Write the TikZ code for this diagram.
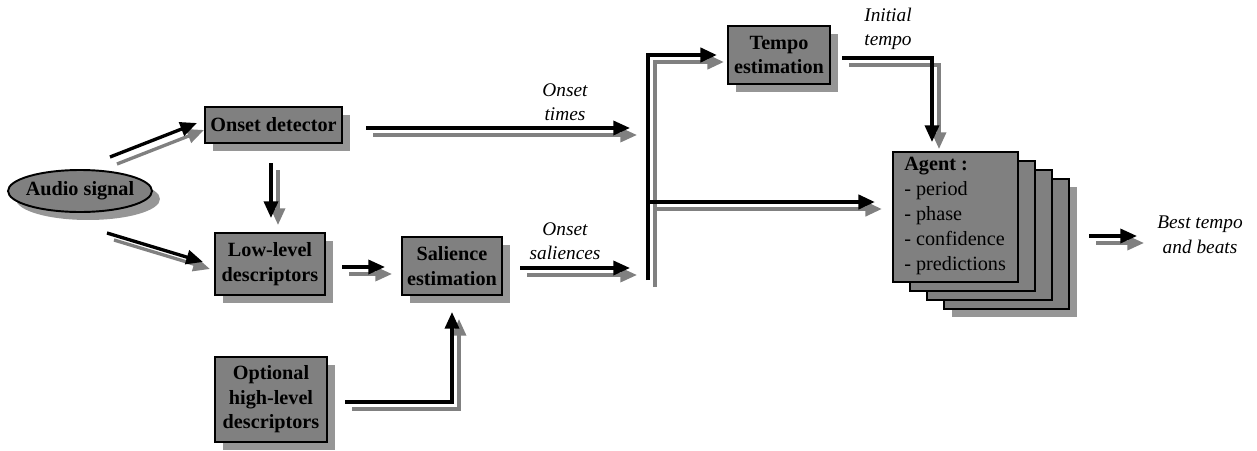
\documentclass[tikz,border=0pt]{standalone}
\usepackage{fontspec}
\setmainfont{Liberation Serif}
\usetikzlibrary{arrows.meta,shapes.geometric,shadows}
\definecolor{boxgray}{RGB}{128,128,128}
\definecolor{shgray}{RGB}{150,150,150}
\definecolor{argray}{RGB}{128,128,128}
\begin{document}
\begin{tikzpicture}[x=0.02cm,y=-0.02cm,
  boxfont/.style={font=\fontsize{11.5}{14}\selectfont\bfseries},
  sh/.style={general shadow={fill=shgray,shadow xshift=0.16cm,shadow yshift=-0.16cm}},
  box/.style={draw=black,line width=1.1pt,fill=boxgray,boxfont,align=center,inner sep=0pt},
  plainbox/.style={draw=black,line width=1.1pt,fill=boxgray,inner sep=0pt,minimum width=2.5cm,minimum height=2.6cm},
  lbl/.style={font=\fontsize{11}{14}\selectfont\itshape,align=center,inner sep=0pt},
  tip/.style={-{Triangle[length=9.5pt,width=8pt]}},
  barrow/.style={draw=black,line width=1.9pt,tip},
  garrow/.style={draw=argray,line width=1.9pt,tip,transform canvas={shift={(0.14cm,-0.14cm)}}},
  bbar/.style={draw=black,line width=2.3pt,tip},
  gbar/.style={draw=argray,line width=2.3pt,tip,transform canvas={shift={(0.14cm,-0.14cm)}}}
]
\useasboundingbox (0,0) rectangle (1257,450);

% nodes
\node[box,sh,ellipse,minimum width=2.88cm,minimum height=0.84cm] (audio) at (80,191) {\makebox[0pt]{Audio signal}};
\node[box,sh,minimum width=2.74cm,minimum height=0.72cm] (onset) at (273.5,125) {Onset detector};
\node[box,sh,minimum width=2.2cm,minimum height=1.24cm] (low) at (270,264) {Low-level\\descriptors};
\node[box,sh,minimum width=2.0cm,minimum height=1.16cm] (sal) at (452,266) {Salience\\estimation};
\node[box,sh,minimum width=2.24cm,minimum height=1.7cm] (opt) at (271,399.5) {Optional\\high-level\\descriptors};
\node[box,sh,minimum width=2.04cm,minimum height=1.16cm] (tempo) at (779,55) {Tempo\\estimation};

\node[plainbox,sh] (ag4) at (1006.5,244) {};
\node[plainbox] (ag3) at (989.5,235) {};
\node[plainbox] (ag2) at (972.5,226) {};
\node[plainbox] (agent) at (955.5,217) {};
\node[anchor=west,align=left,inner sep=0pt,font=\fontsize{11.5}{14.2}\selectfont] (agtext) at (904,216)
  {\textbf{Agent :}\\- period\\- phase\\- confidence\\- predictions};

% labels
\node[lbl] (ltimes) at (565,102) {Onset\\times};
\node[lbl] (lsal) at (565,241) {Onset\\saliences};
\node[lbl] (linit) at (888,29) {Initial\\tempo};
\node[lbl] (lbest) at (1200,235) {Best tempo\\and beats};

% connector end points
\coordinate (a1s) at (110,157); \coordinate (a1e) at (197,123);
\coordinate (a2s) at (107,233); \coordinate (a2e) at (203,262);
\coordinate (a3s) at (271,163); \coordinate (a3e) at (271,218);
\coordinate (a4s) at (342,267); \coordinate (a4e) at (385,267);
\coordinate (a5s) at (345,402); \coordinate (a5c) at (452,402); \coordinate (a5e) at (452,312);
\coordinate (a6s) at (366,128); \coordinate (a6e) at (630,128);
\coordinate (a7s) at (520,268); \coordinate (a7e) at (630,268);
\coordinate (bbot) at (648,280); \coordinate (btop) at (648,55); \coordinate (bte) at (717,55);
\coordinate (bmid) at (648,202); \coordinate (bag) at (875,202);
\coordinate (a9s) at (842,58); \coordinate (a9c) at (932,58); \coordinate (a9e) at (932,142);
\coordinate (a10s) at (1089,236); \coordinate (a10e) at (1137,236);

% gray shadow arrows
\draw[garrow] (a1s) -- (a1e);
\draw[garrow] (a2s) -- (a2e);
\draw[garrow] (a3s) -- (a3e);
\draw[garrow] (a4s) -- (a4e);
\draw[garrow] (a5s) -- (a5c) -- (a5e);
\draw[garrow] (a6s) -- (a6e);
\draw[garrow] (a7s) -- (a7e);
\draw[gbar] (bbot) -- (btop) -- (bte);
\draw[gbar] (bmid) -- (bag);
\draw[garrow] (a9s) -- (a9c) -- (a9e);
\draw[garrow] (a10s) -- (a10e);

% black arrows
\draw[barrow] (a1s) -- (a1e);
\draw[barrow] (a2s) -- (a2e);
\draw[barrow] (a3s) -- (a3e);
\draw[barrow] (a4s) -- (a4e);
\draw[barrow] (a5s) -- (a5c) -- (a5e);
\draw[barrow] (a6s) -- (a6e);
\draw[barrow] (a7s) -- (a7e);
\draw[bbar] (bbot) -- (btop) -- (bte);
\draw[bbar] (bmid) -- (bag);
\draw[barrow] (a9s) -- (a9c) -- (a9e);
\draw[barrow] (a10s) -- (a10e);
\end{tikzpicture}
\end{document}
